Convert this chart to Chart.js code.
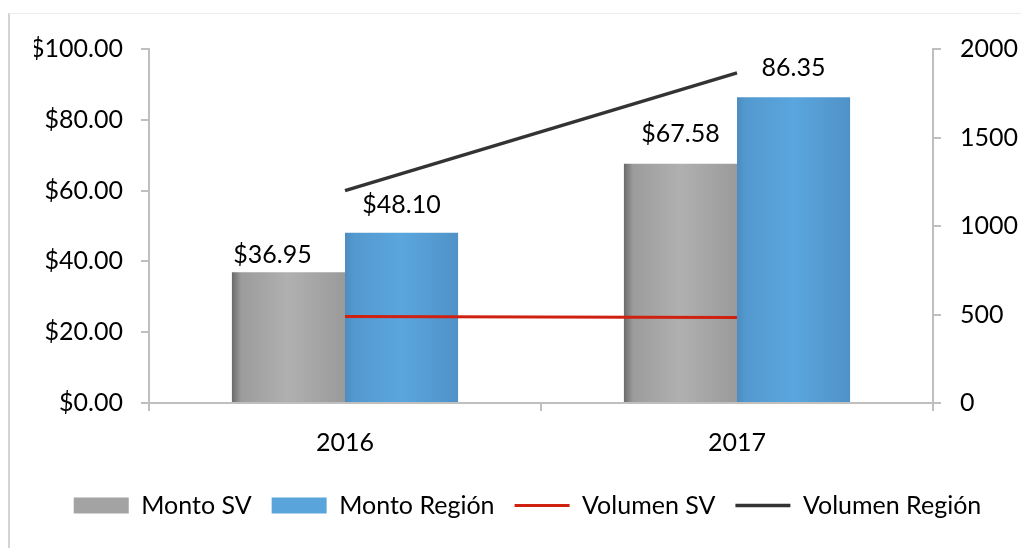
<!DOCTYPE html>
<html>
<head>
<meta charset="utf-8">
<script src="https://cdn.jsdelivr.net/npm/chart.js@4"></script>
<style>
  html, body { margin: 0; padding: 0; background: #fff; }
  #wrap { position: relative; width: 1021px; height: 548px; }
  #frame { position: absolute; left: 8px; top: 13px; right: 0; bottom: 0; border-left: 2px solid #d4d4d4; border-top: 1px solid #ececec; }
  canvas { position: absolute; left: 0; top: 0; }
</style>
</head>
<body>
<div id="wrap">
  <div id="frame"></div>
  <canvas id="grafica" width="1021" height="548"></canvas>
</div>
<script>
const years = ['2016', '2017'];
const montoSV = [36.95, 67.58];
const montoRegion = [48.10, 86.35];
const volumenSV = [488, 483];
const volumenRegion = [1200, 1865];
const etiquetasSV = ['$36.95', '$67.58'];
const etiquetasRegion = ['$48.10', '86.35'];
const montoTicks = [0, 20, 40, 60, 80, 100];
const volumenTicks = [0, 500, 1000, 1500, 2000];

const FONT = 'Lato';
const FSIZE = 25;
const CAT_PCT = 0.577;
const PAD_LEFT = 34;

// degradado horizontal por barra (efecto bisel)
function barFill(stops, side) {
  return (c) => {
    const chart = c.chart;
    const xs = chart.scales && chart.scales.x;
    if (!chart.chartArea || !xs || c.dataIndex === undefined) return stops[2];
    const center = xs.getPixelForValue(c.dataIndex);
    const half = xs.width / years.length * CAT_PCT / 2;
    const x0 = side < 0 ? center - half : center;
    const g = chart.ctx.createLinearGradient(x0, 0, x0 + half, 0);
    g.addColorStop(0, stops[0]);
    g.addColorStop(0.08, stops[1]);
    g.addColorStop(0.5, stops[2]);
    g.addColorStop(1, stops[3]);
    return g;
  };
}

const coloresLeyenda = ['#a3a3a3', '#5aa4dc', '#d0200f', '#333333'];

const etiquetasPlugin = {
  id: 'etiquetas',
  afterDatasetsDraw(chart) {
    const ctx = chart.ctx;
    ctx.save();
    ctx.font = FSIZE + 'px ' + FONT;
    ctx.fillStyle = '#000';
    ctx.textAlign = 'center';
    ctx.textBaseline = 'middle';
    const ajustes = [[{ dx: -16, dy: 17 }, { dx: 0, dy: 30 }], [{ dx: 0, dy: 28 }, { dx: 0, dy: 29 }]];
    [etiquetasSV, etiquetasRegion].forEach((textos, di) => {
      chart.getDatasetMeta(di).data.forEach((bar, i) => {
        const a = ajustes[di][i];
        ctx.fillText(textos[i], bar.x + a.dx, bar.y - a.dy);
      });
    });
    ctx.restore();
  }
};

const ctx1 = document.getElementById('grafica').getContext('2d');
const chart1 = new Chart(ctx1, {
  type: 'bar',
  data: {
    labels: years,
    datasets: [
      {
        label: 'Monto SV',
        data: montoSV,
        yAxisID: 'y',
        backgroundColor: barFill(['#6a6a6a', '#9c9c9c', '#b0b0b0', '#9a9a9a'], -1),
        pointStyle: 'rect',
        order: 1
      },
      {
        label: 'Monto Región',
        data: montoRegion,
        yAxisID: 'y',
        backgroundColor: barFill(['#4d8cbf', '#5399cf', '#5aa6de', '#4f92c8'], 1),
        pointStyle: 'rect',
        order: 1
      },
      {
        type: 'line',
        label: 'Volumen SV',
        data: volumenSV,
        yAxisID: 'y1',
        borderColor: '#d0200f',
        backgroundColor: '#d0200f',
        borderWidth: 3,
        pointRadius: 0,
        pointStyle: 'line',
        order: 0
      },
      {
        type: 'line',
        label: 'Volumen Región',
        data: volumenRegion,
        yAxisID: 'y1',
        borderColor: '#333333',
        backgroundColor: '#333333',
        borderWidth: 3.5,
        pointRadius: 0,
        pointStyle: 'line',
        order: 0
      }
    ]
  },
  options: {
    responsive: false,
    animation: false,
    devicePixelRatio: 1,
    datasets: { bar: { categoryPercentage: CAT_PCT, barPercentage: 1 } },
    layout: { padding: { top: 49, left: PAD_LEFT, right: 0, bottom: 20 } },
    plugins: {
      tooltip: { enabled: false },
      legend: {
        position: 'bottom',
        labels: {
          usePointStyle: true,
          pointStyleWidth: 55,
          boxHeight: 16,
          padding: 20,
          color: '#000',
          font: { family: FONT, size: FSIZE },
          sort: (a, b) => a.datasetIndex - b.datasetIndex,
          generateLabels: (chart) => {
            const items = Chart.defaults.plugins.legend.labels.generateLabels(chart);
            items.forEach(it => {
              it.fillStyle = coloresLeyenda[it.datasetIndex];
              it.strokeStyle = coloresLeyenda[it.datasetIndex];
            });
            return items;
          }
        }
      }
    },
    scales: {
      x: {
        offset: true,
        grid: { offset: true, drawOnChartArea: false, drawTicks: true, tickLength: 8, color: '#bfbfbf', lineWidth: 2 },
        border: { color: '#bfbfbf', width: 2 },
        ticks: { color: '#000', padding: 17, font: { family: FONT, size: FSIZE } },
        afterFit: (s) => { s.height = 70; }
      },
      y: {
        position: 'left',
        min: 0,
        max: 100,
        afterBuildTicks: (s) => { s.ticks = montoTicks.map(v => ({ value: v })); },
        grid: { drawOnChartArea: false, drawTicks: true, tickLength: 8, color: '#bfbfbf', lineWidth: 2 },
        border: { color: '#bfbfbf', width: 2 },
        ticks: { color: '#000', padding: 18, font: { family: FONT, size: FSIZE }, callback: (v) => '$' + Number(v).toFixed(2) },
        afterFit: (s) => { s.width = 149 - PAD_LEFT; }
      },
      y1: {
        position: 'right',
        min: 0,
        max: 2000,
        afterBuildTicks: (s) => { s.ticks = volumenTicks.map(v => ({ value: v })); },
        grid: { drawOnChartArea: false, drawTicks: true, tickLength: 8, color: '#bfbfbf', lineWidth: 2 },
        border: { color: '#bfbfbf', width: 2 },
        ticks: { color: '#000', padding: 19, font: { family: FONT, size: FSIZE }, callback: (v) => String(v) },
        afterFit: (s) => { s.width = 1021 - 933; }
      }
    }
  },
  plugins: [etiquetasPlugin]
});
</script>
</body>
</html>
